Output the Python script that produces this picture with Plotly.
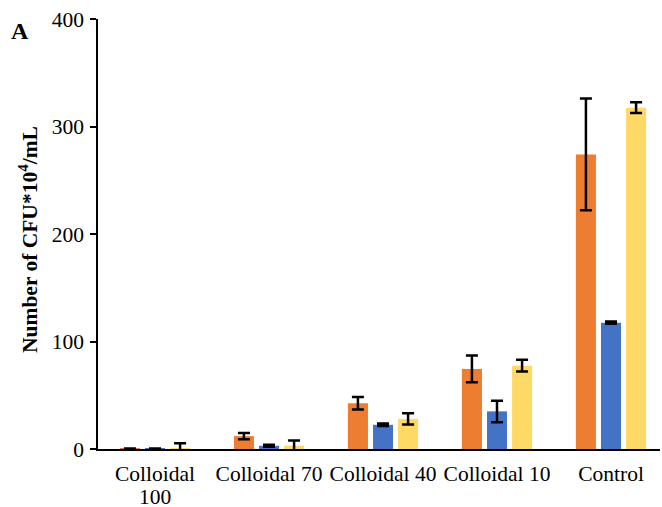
import plotly.graph_objects as go

# Colony counts (CFU x 10^4 / mL) for each treatment, three replicate series
categories = ["Colloidal<br>100", "Colloidal 70", "Colloidal 40", "Colloidal 10", "Control"]

series_a = [0.5, 12.0, 42.5, 74.5, 274.0]
series_a_err = [0.0, 3.0, 5.8, 12.5, 52.0]

series_b = [0.5, 3.0, 22.5, 35.0, 117.5]
series_b_err = [0.0, 1.0, 1.2, 10.0, 1.0]

series_c = [0.5, 3.0, 28.0, 77.5, 317.5]
series_c_err = [4.8, 5.0, 5.3, 5.5, 5.0]

colors = ["#ED7D31", "#4472C4", "#FFD966"]
y_ticks = [0, 100, 200, 300, 400]

FONT = '"Liberation Serif", "Times New Roman", serif'


def tight_label(text, size=21.5):
    # tick font is kept small so wrapped lines sit close together,
    # while each line is rendered at full size
    return "<br>".join(f"<span style='font-size:{size}px'>{part}</span>"
                       for part in text.split("<br>"))


fig = go.Figure()
for vals, errs, col in zip([series_a, series_b, series_c],
                           [series_a_err, series_b_err, series_c_err], colors):
    fig.add_trace(go.Bar(
        x=categories, y=vals,
        marker=dict(color=col, line=dict(width=0)),
        error_y=dict(type="data", array=errs, visible=True,
                     color="black", thickness=2.5, width=6),
        showlegend=False,
    ))

fig.update_layout(
    width=662, height=507,
    margin=dict(l=98, r=2, t=19, b=58),
    paper_bgcolor="white", plot_bgcolor="white",
    barmode="group", bargap=0.34, bargroupgap=0.2,
    font=dict(family=FONT, size=21, color="black"),
    xaxis=dict(
        range=[-0.5, -0.5 + 562 / 114], automargin=False,
        tickvals=categories, ticktext=[tight_label(c) for c in categories],
        showline=True, linecolor="black", linewidth=2,
        ticks="", showgrid=False, zeroline=False,
        tickfont=dict(family=FONT, size=18), ticklabelstandoff=8,
    ),
    yaxis=dict(
        range=[0, 400], tickvals=y_ticks, automargin=False,
        showline=True, linecolor="black", linewidth=1.5,
        ticks="outside", ticklen=6, tickwidth=1.5, tickcolor="black",
        showgrid=False, zeroline=False, ticklabelstandoff=2,
        tickfont=dict(family=FONT, size=21.5),
    ),
    annotations=[
        dict(text="<b>Number of CFU*10<sup>4</sup>/mL</b>", textangle=-90,
             xref="paper", yref="paper", x=-(98 - 28) / 562, y=(449 - 240) / 430,
             xanchor="center", yanchor="middle", showarrow=False,
             font=dict(family=FONT, size=21.5, color="black")),
        dict(text="<b>A</b>", xref="paper", yref="paper",
             x=-(98 - 9) / 562, y=(449 - 31) / 430,
             xanchor="left", yanchor="middle", showarrow=False,
             font=dict(family=FONT, size=24, color="black")),
    ],
)

fig.write_html("out.html")
